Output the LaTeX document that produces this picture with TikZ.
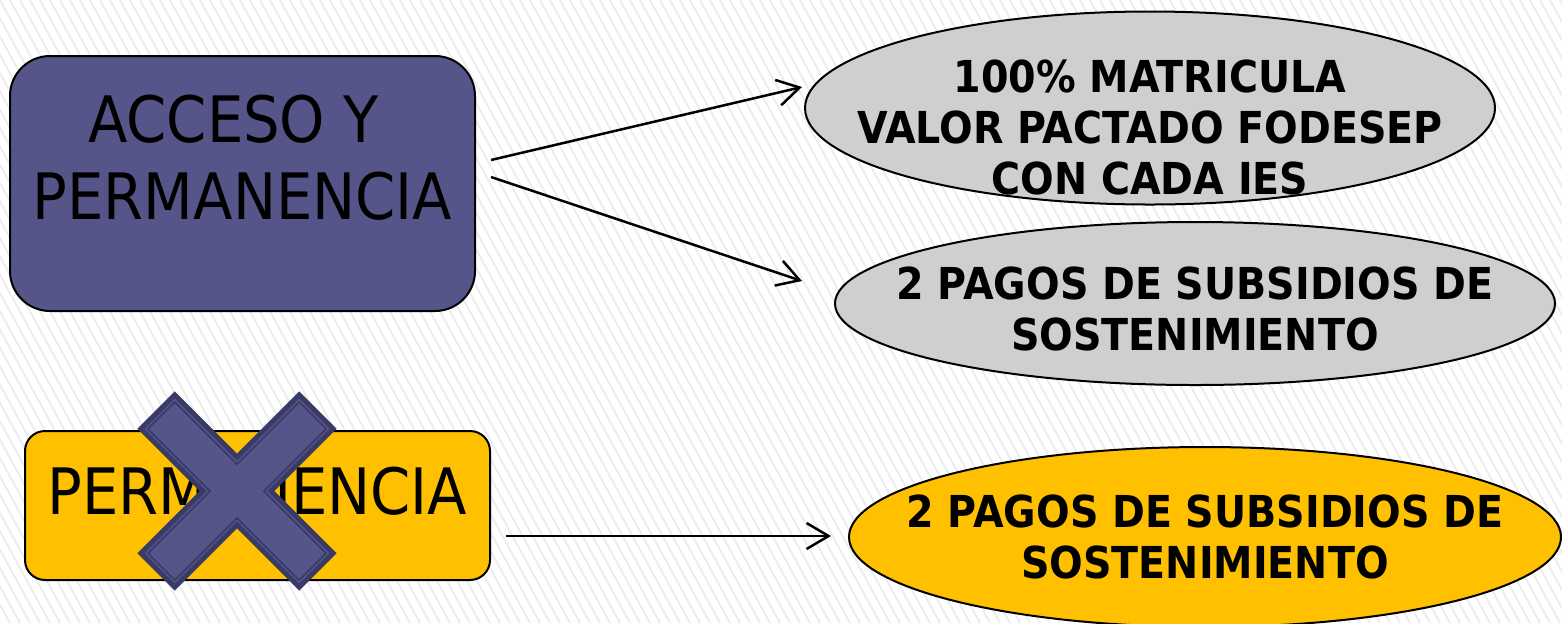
\documentclass[tikz,border=0pt]{standalone}
\usepackage{fontspec}
\newfontfamily\boxfont[FakeStretch=0.9]{DejaVu Sans}
\newfontfamily\ovalfont[FakeStretch=0.9]{DejaVu Sans}
\usepackage{tikz}
\usetikzlibrary{positioning,shapes.geometric,arrows.meta}

\definecolor{slate}{HTML}{55558A}
\definecolor{slatedark}{HTML}{3A3A66}
\definecolor{amber}{HTML}{FFC000}
\definecolor{silver}{HTML}{CFCFCF}
\definecolor{stripe}{HTML}{ECECEC}

\tikzset{
  bigbox/.style={draw=black,line width=1pt,rounded corners=20pt,fill=slate,
    minimum width=232.5pt,minimum height=127.5pt,inner sep=0pt},
  smallbox/.style={draw=black,line width=1pt,rounded corners=10pt,fill=amber,
    minimum width=232.5pt,minimum height=74.5pt,inner sep=0pt},
  oval/.style={ellipse,draw=black,line width=1pt,inner sep=0pt},
  bigtxt/.style={font=\boxfont\fontsize{32}{38.5}\selectfont,align=center,inner sep=0pt},
  ovaltxt/.style={font=\ovalfont\bfseries\fontsize{22}{25.5}\selectfont,align=center,inner sep=0pt},
  link/.style={-{Straight Barb[length=11pt,width=13pt]},line width=1.25pt}
}

% cross: #1 style, #2 half width, #3 half length
\newcommand{\xcross}[3]{\draw[#1] (#3,#2) -- (#2,#2) -- (#2,#3) -- (-#2,#3) -- (-#2,#2) -- (-#3,#2)
  -- (-#3,-#2) -- (-#2,-#2) -- (-#2,-#3) -- (#2,-#3) -- (#2,-#2) -- (#3,-#2) -- cycle;}

\begin{document}
\begin{tikzpicture}[x=0.5pt,y=-0.5pt]
\useasboundingbox (0,0) rectangle (1562,623);
\clip (0,0) rectangle (1562,623);
\fill[white] (0,0) rectangle (1562,623);
\foreach \k in {-35,...,160}
  \draw[stripe,line width=0.9pt] (\k*10,0) -- (\k*10+340,623);

\node[bigbox] (acc) at (242.5,183.5) {};
\node[smallbox] (perm) [below of=acc,node distance=161pt,xshift=7.5pt] {};

\node[oval,fill=silver,minimum width=345pt,minimum height=96.5pt] (e1) [right of=acc,node distance=453.75pt,yshift=37.75pt] {};
\node[oval,fill=silver,minimum width=360pt,minimum height=81.5pt] (e2) [below of=e1,node distance=97.75pt,xshift=22.5pt] {};
\node[oval,fill=amber,minimum width=356pt,minimum height=90pt] (e3) [right of=perm,node distance=473.75pt,yshift=-15.75pt] {};

\node[bigtxt] (accText) at ([yshift=13pt]acc.center) {ACCESO Y\kern9pt\\PERMANENCIA};
\node[bigtxt] (permText) at ([yshift=7pt]perm.center) {PERMANENCIA};
\node[ovaltxt] (e1Text) at ([yshift=-9.75pt]e1.center) {100\% MATRICULA\\VALOR PACTADO FODESEP\\CON CADA IES};
\node[ovaltxt] (e2Text) at ([yshift=-2.75pt]e2.center) {2 PAGOS DE SUBSIDIOS DE\\SOSTENIMIENTO};
\node[ovaltxt] (e3Text) at (e3.center) {2 PAGOS DE SUBSIDIOS DE\\SOSTENIMIENTO};

\draw[link] ([xshift=7.5pt,yshift=11.75pt]acc.east) -- ([xshift=-1pt,yshift=10.5pt]e1.west);
\draw[link] ([xshift=7.5pt,yshift=3.25pt]acc.east) -- ([xshift=-16pt,yshift=11.25pt]e2.west);
\draw[link] ([xshift=7.5pt,yshift=-15.25pt]perm.east) -- ([xshift=-8.5pt,yshift=0.5pt]e3.west);

% the cross over the yellow box
\begin{scope}[shift={(237,491)},rotate=45]
  \xcross{fill=slate,draw=slatedark,line width=2.5pt,line join=miter}{24}{112}
  \xcross{draw=slatedark,line width=0.8pt}{19}{107}
\end{scope}
\end{tikzpicture}
\end{document}
